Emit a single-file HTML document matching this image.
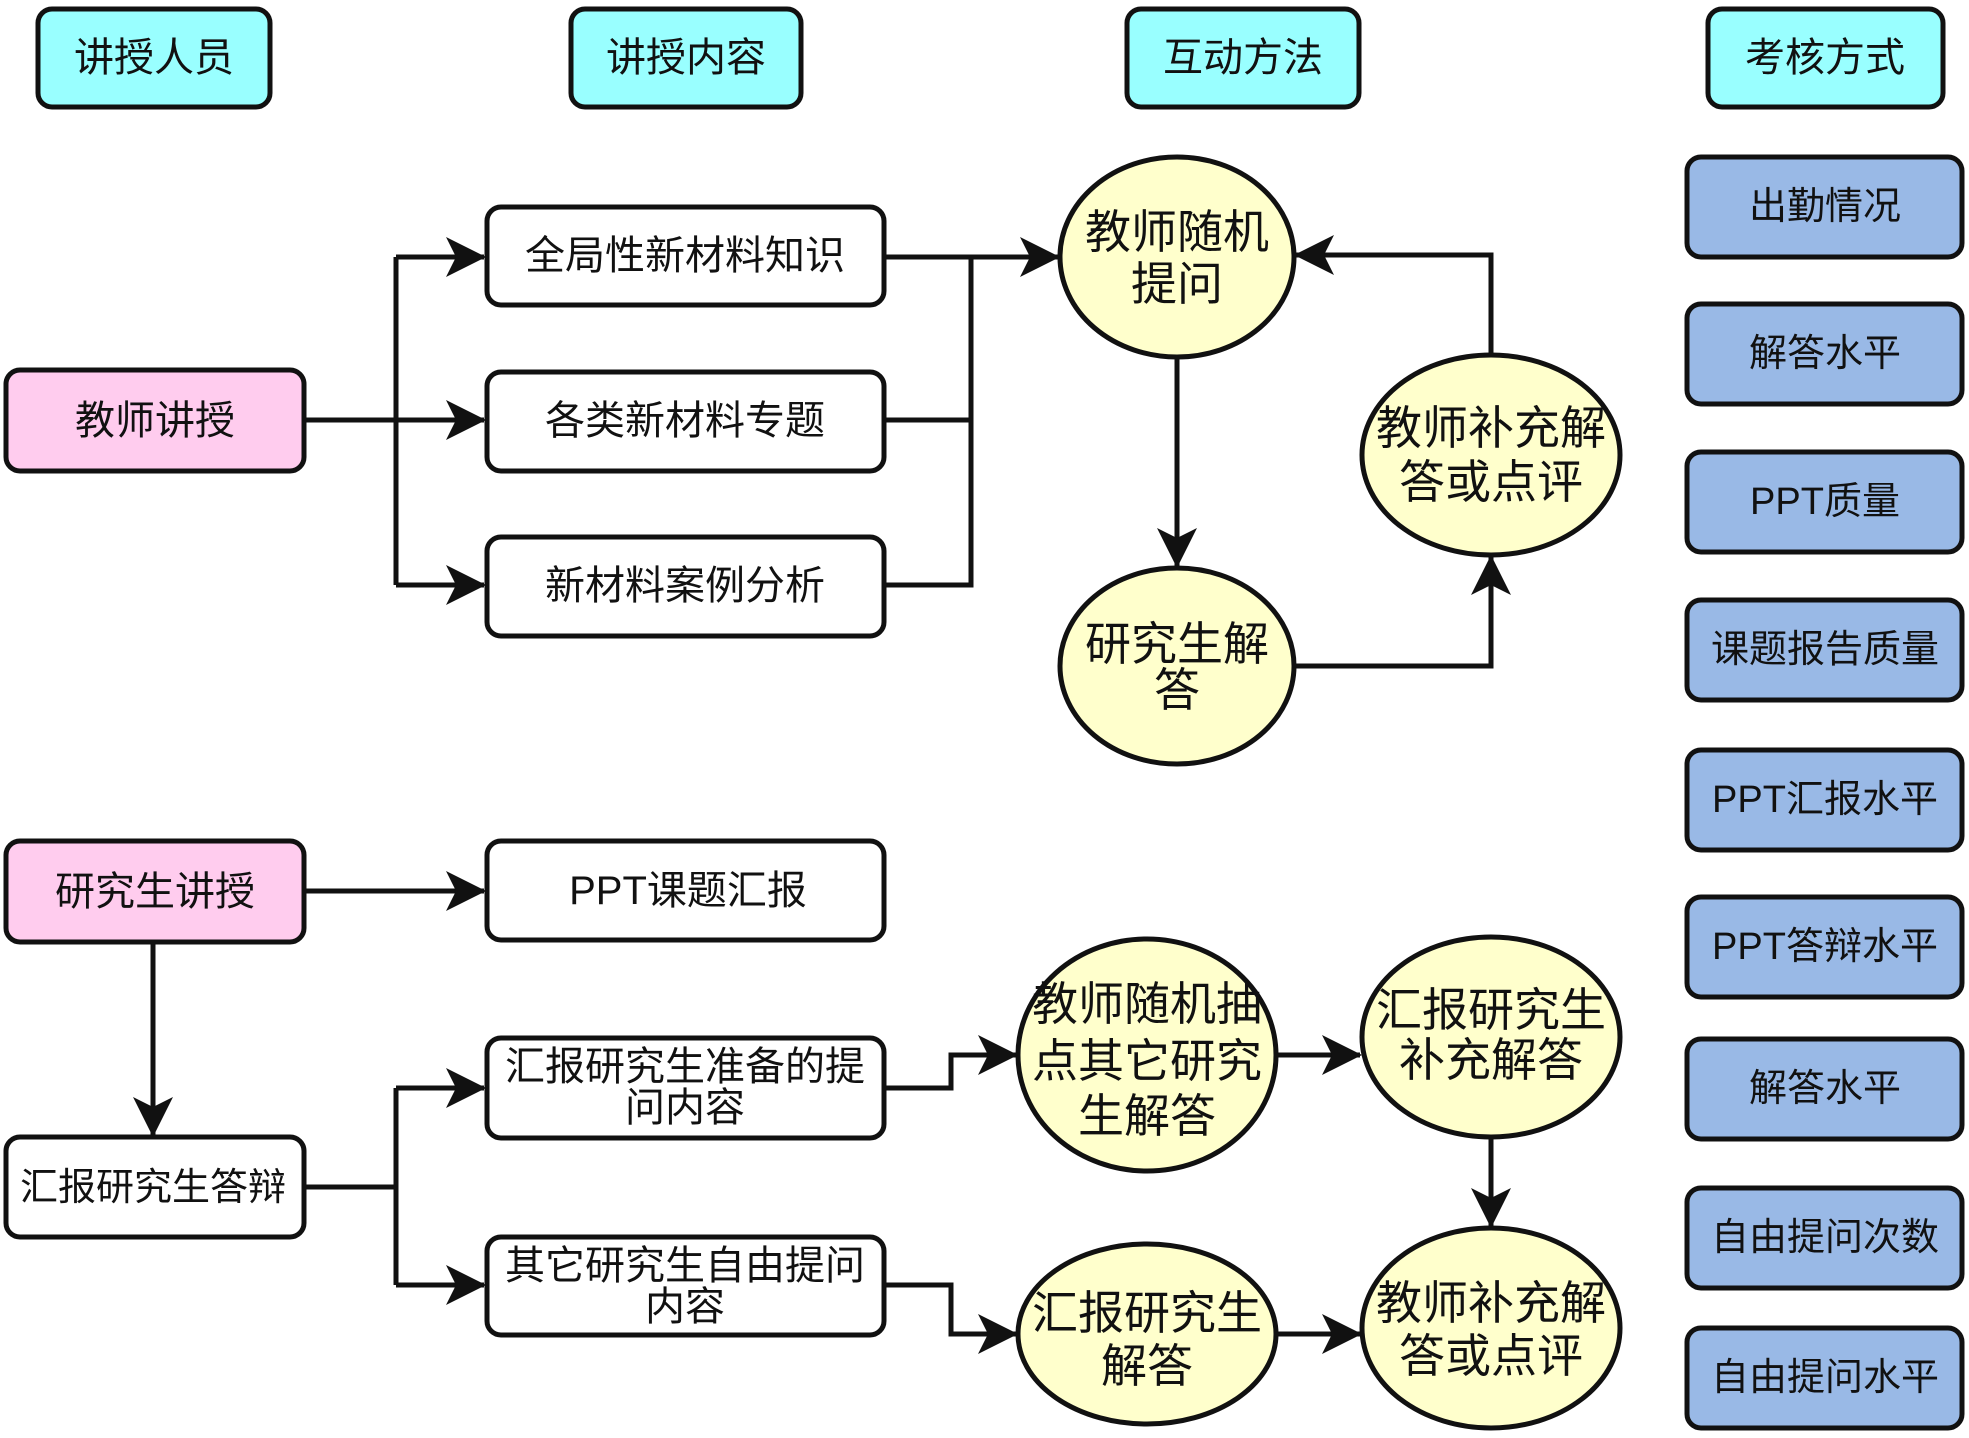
<!DOCTYPE html>
<html><head><meta charset="utf-8"><style>
html,body{margin:0;padding:0;background:#fff}
svg text{font-family:"Liberation Sans","Noto Sans CJK SC",sans-serif;fill:#111;text-anchor:middle;dominant-baseline:central}
</style></head><body>
<svg width="1969" height="1433" viewBox="0 0 1969 1433" xmlns="http://www.w3.org/2000/svg">
<defs>
<marker id="ar" viewBox="0 0 40 40" refX="38" refY="20" markerWidth="40" markerHeight="40" orient="auto" markerUnits="userSpaceOnUse">
<path d="M0,0 L40,20 L0,40 L10,20 Z" fill="#111"/>
</marker>
</defs>
<g stroke="#111" stroke-width="5" fill="none">
<rect x="38" y="9" width="232" height="98" rx="14" fill="#99ffff"/>
<rect x="571" y="9" width="230" height="98" rx="14" fill="#99ffff"/>
<rect x="1127" y="9" width="232" height="98" rx="14" fill="#99ffff"/>
<rect x="1708" y="9" width="235" height="98" rx="14" fill="#99ffff"/>
<rect x="6" y="370" width="298" height="101" rx="14" fill="#ffccee"/>
<rect x="6" y="841" width="298" height="101" rx="14" fill="#ffccee"/>
<rect x="6" y="1137" width="298" height="100" rx="14" fill="#fff"/>
<rect x="487" y="207" width="397" height="98" rx="14" fill="#fff"/>
<rect x="487" y="372" width="397" height="99" rx="14" fill="#fff"/>
<rect x="487" y="537" width="397" height="99" rx="14" fill="#fff"/>
<rect x="487" y="841" width="397" height="99" rx="14" fill="#fff"/>
<rect x="487" y="1038" width="397" height="100" rx="14" fill="#fff"/>
<rect x="487" y="1237" width="397" height="98" rx="14" fill="#fff"/>
<g fill="#99b9e6">
<rect x="1687" y="157" width="275" height="100" rx="14"/>
<rect x="1687" y="304" width="275" height="100" rx="14"/>
<rect x="1687" y="452" width="275" height="100" rx="14"/>
<rect x="1687" y="600" width="275" height="100" rx="14"/>
<rect x="1687" y="750" width="275" height="100" rx="14"/>
<rect x="1687" y="897" width="275" height="100" rx="14"/>
<rect x="1687" y="1039" width="275" height="100" rx="14"/>
<rect x="1687" y="1188" width="275" height="100" rx="14"/>
<rect x="1687" y="1328" width="275" height="100" rx="14"/>
</g>
<g fill="#ffffcc">
<ellipse cx="1177" cy="257" rx="117" ry="100"/>
<ellipse cx="1177" cy="666" rx="117" ry="98"/>
<ellipse cx="1491" cy="455" rx="129" ry="100"/>
<ellipse cx="1147" cy="1055" rx="129" ry="116"/>
<ellipse cx="1491" cy="1037" rx="129" ry="100"/>
<ellipse cx="1147" cy="1334" rx="129" ry="90"/>
<ellipse cx="1491" cy="1328" rx="129" ry="100"/>
</g>
<path d="M304,420 L484,420" marker-end="url(#ar)"/>
<path d="M396,257 L396,585"/>
<path d="M396,257 L484,257" marker-end="url(#ar)"/>
<path d="M396,585 L484,585" marker-end="url(#ar)"/>
<path d="M884,257 L971,257 M884,420 L971,420 M884,585 L971,585 L971,257"/>
<path d="M971,257 L1058,257" marker-end="url(#ar)"/>
<path d="M1177,357 L1177,566" marker-end="url(#ar)"/>
<path d="M1294,666 L1491,666 L1491,557" marker-end="url(#ar)"/>
<path d="M1491,355 L1491,255 L1296,255" marker-end="url(#ar)"/>
<path d="M304,891 L484,891" marker-end="url(#ar)"/>
<path d="M153,942 L153,1135" marker-end="url(#ar)"/>
<path d="M304,1187 L396,1187 M396,1088 L396,1285"/>
<path d="M396,1088 L484,1088" marker-end="url(#ar)"/>
<path d="M396,1285 L484,1285" marker-end="url(#ar)"/>
<path d="M884,1088 L951,1088 L951,1055 L1016,1055" marker-end="url(#ar)"/>
<path d="M884,1285 L951,1285 L951,1334 L1016,1334" marker-end="url(#ar)"/>
<path d="M1276,1055 L1360,1055" marker-end="url(#ar)"/>
<path d="M1491,1137 L1491,1226" marker-end="url(#ar)"/>
<path d="M1276,1334 L1360,1334" marker-end="url(#ar)"/>
</g>
<g font-size="40">
<text x="154" y="58">讲授人员</text>
<text x="686" y="58">讲授内容</text>
<text x="1243" y="58">互动方法</text>
<text x="1825" y="58">考核方式</text>
<text x="155" y="421">教师讲授</text>
<text x="155" y="892">研究生讲授</text>
<text x="153" y="1188" font-size="38">汇报研究生答辩</text>
</g>
<g font-size="40">
<text x="685" y="256">全局性新材料知识</text>
<text x="685" y="421">各类新材料专题</text>
<text x="685" y="586">新材料案例分析</text>
<text x="688" y="891">PPT课题汇报</text>
<text x="685" y="1067">汇报研究生准备的提</text>
<text x="685" y="1108">问内容</text>
<text x="685" y="1266">其它研究生自由提问</text>
<text x="685" y="1307">内容</text>
</g>
<g font-size="38">
<text x="1825" y="207">出勤情况</text>
<text x="1825" y="354">解答水平</text>
<text x="1825" y="502">PPT质量</text>
<text x="1825" y="650">课题报告质量</text>
<text x="1825" y="800">PPT汇报水平</text>
<text x="1825" y="947">PPT答辩水平</text>
<text x="1825" y="1089">解答水平</text>
<text x="1825" y="1238">自由提问次数</text>
<text x="1825" y="1378">自由提问水平</text>
</g>
<g font-size="46">
<text x="1177" y="232">教师随机</text>
<text x="1177" y="284">提问</text>
<text x="1177" y="644">研究生解</text>
<text x="1177" y="690">答</text>
<text x="1491" y="428">教师补充解</text>
<text x="1491" y="482">答或点评</text>
<text x="1147" y="1004">教师随机抽</text>
<text x="1147" y="1061">点其它研究</text>
<text x="1147" y="1116">生解答</text>
<text x="1491" y="1010">汇报研究生</text>
<text x="1491" y="1060">补充解答</text>
<text x="1147" y="1313">汇报研究生</text>
<text x="1147" y="1366">解答</text>
<text x="1491" y="1303">教师补充解</text>
<text x="1491" y="1356">答或点评</text>
</g>
</svg>
</body></html>
